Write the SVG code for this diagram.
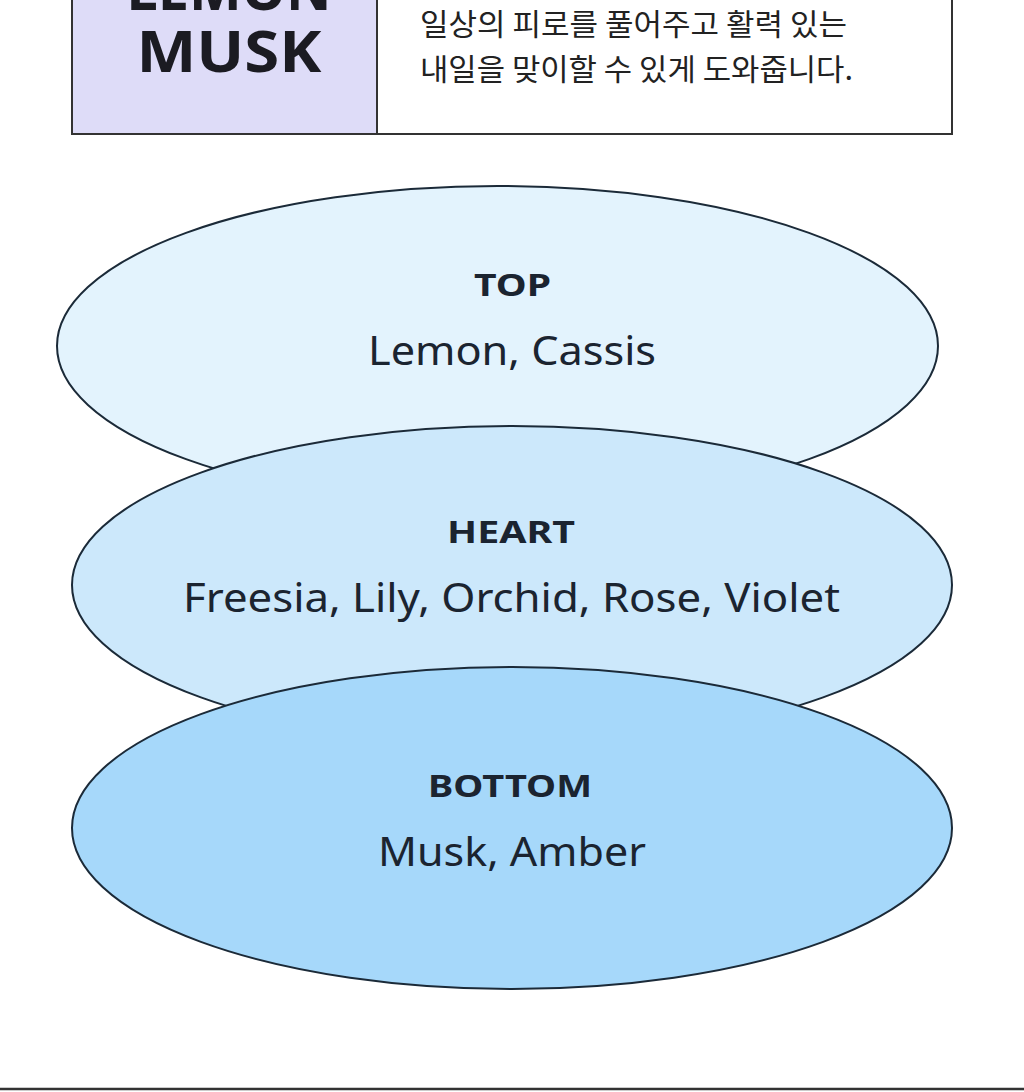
<svg xmlns="http://www.w3.org/2000/svg" width="1024" height="1092" viewBox="0 0 1024 1092">
<style>
.lbl{font-family:"Noto Sans","Liberation Sans",sans-serif;font-weight:700;font-size:31px;fill:#1b2430;text-anchor:middle}
.val{font-family:"Noto Sans","Liberation Sans",sans-serif;font-weight:400;font-size:40px;fill:#1b2430;text-anchor:middle}
.el{stroke:#1b2a38;stroke-width:2}
.kr{font-family:"Noto Sans CJK KR",sans-serif;font-size:30px;fill:#222}
.hd{font-family:"Noto Sans","Liberation Sans",sans-serif;font-weight:700;font-size:58px;fill:#1b1b22;text-anchor:middle}
</style>
<rect width="1024" height="1092" fill="#ffffff"/>
<g id="header">
<rect x="72" y="-20" width="305" height="154" fill="#dedcf8" stroke="#333" stroke-width="2"/>
<rect x="377" y="-20" width="575" height="154" fill="#ffffff" stroke="#333" stroke-width="2"/>
<text class="hd" x="229" y="10" textLength="205" lengthAdjust="spacingAndGlyphs">LEMON</text>
<text class="hd" x="229" y="72" textLength="185" lengthAdjust="spacingAndGlyphs">MUSK</text>
<text class="kr" x="420" y="35" textLength="427" lengthAdjust="spacingAndGlyphs">일상의 피로를 풀어주고 활력 있는</text>
<text class="kr" x="420" y="80" textLength="433" lengthAdjust="spacingAndGlyphs">내일을 맞이할 수 있게 도와줍니다.</text>
</g>
<g id="top">
<ellipse class="el" cx="497.5" cy="346" rx="440.5" ry="160" fill="#e3f3fd"/>
<text class="lbl" x="512.5" y="296" textLength="77" lengthAdjust="spacingAndGlyphs">TOP</text>
<text class="val" x="512" y="365" textLength="288" lengthAdjust="spacingAndGlyphs">Lemon, Cassis</text>
</g>
<g id="heart">
<ellipse class="el" cx="512" cy="585" rx="440" ry="159" fill="#cce8fb"/>
<text class="lbl" x="511" y="543" textLength="128" lengthAdjust="spacingAndGlyphs">HEART</text>
<text class="val" x="511.5" y="612" textLength="657" lengthAdjust="spacingAndGlyphs">Freesia, Lily, Orchid, Rose, Violet</text>
</g>
<g id="bottom">
<ellipse class="el" cx="512" cy="828" rx="440" ry="161" fill="#a6d8fa"/>
<text class="lbl" x="510" y="797" textLength="164" lengthAdjust="spacingAndGlyphs">BOTTOM</text>
<text class="val" x="512" y="866" textLength="268" lengthAdjust="spacingAndGlyphs">Musk, Amber</text>
</g>
<g id="connectors"></g>
<line x1="0" y1="1089" x2="1024" y2="1089" stroke="#333" stroke-width="2.5"/>
</svg>
